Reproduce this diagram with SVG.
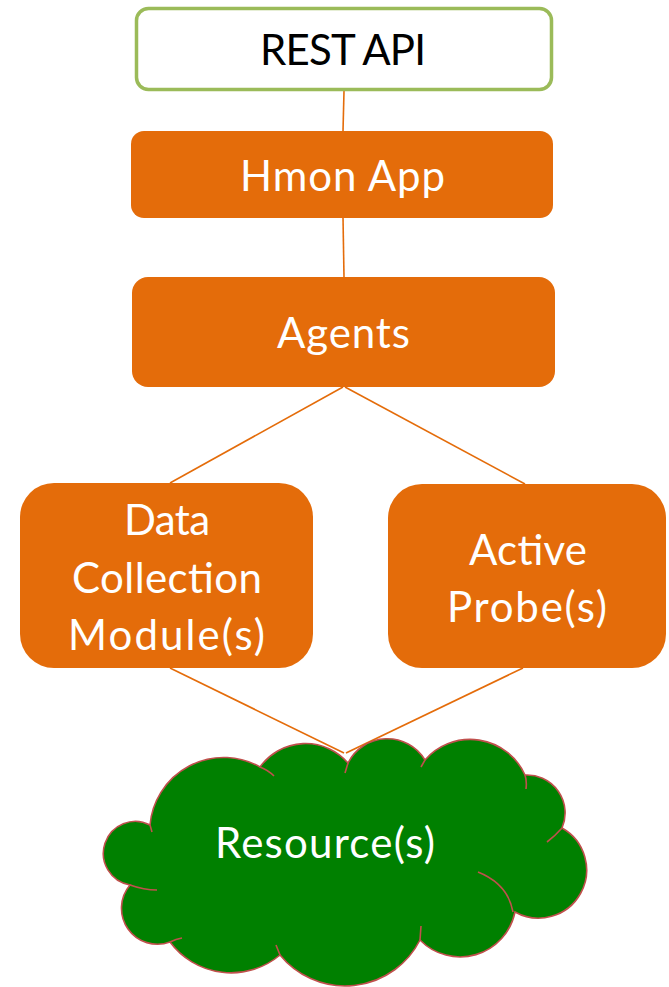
<svg xmlns="http://www.w3.org/2000/svg" width="669" height="987" viewBox="0 0 669 987">
<style>
.box{fill:#E46C0A;}
.lbl{font-family:Lato,"Liberation Sans",sans-serif;font-size:42px;fill:#FFFFFF;text-anchor:middle;}
.conn{stroke:#E46C0A;stroke-width:1.6;fill:none;}
.cloud{fill:#008000;stroke:#C0504D;stroke-width:1.6;}
.inner{fill:none;stroke:#C0504D;stroke-width:1.6;}
</style>
<rect width="669" height="987" fill="#FFFFFF"/>
<g id="connectors">
<line class="conn" x1="344" y1="91" x2="343" y2="131"/>
<line class="conn" x1="343" y1="217" x2="344" y2="277"/>
<line class="conn" x1="343" y1="387" x2="170" y2="483"/>
<line class="conn" x1="345" y1="387" x2="525" y2="484"/>
<line class="conn" x1="170" y1="668" x2="344" y2="753"/>
<line class="conn" x1="523" y1="668" x2="346" y2="753"/>
</g>
<g id="rest-api">
<rect x="136.5" y="8.5" width="415" height="81" rx="12" fill="#FFFFFF" stroke="#9BBB59" stroke-width="3.5"/>
<text class="lbl" x="343" y="65" style="fill:#000000" textLength="166" lengthAdjust="spacing">REST API</text>
</g>
<g id="hmon-app">
<rect class="box" x="131" y="131" width="422" height="87" rx="13"/>
<text class="lbl" x="342.5" y="191" textLength="205" lengthAdjust="spacing">Hmon App</text>
</g>
<g id="agents">
<rect class="box" x="132" y="277" width="423" height="110" rx="16"/>
<text class="lbl" x="343.5" y="348" textLength="133" lengthAdjust="spacing">Agents</text>
</g>
<g id="data-collection">
<rect class="box" x="20" y="483" width="293" height="185" rx="34"/>
<text class="lbl" x="167" y="535" textLength="86" lengthAdjust="spacing">Data</text>
<text class="lbl" x="167" y="593" textLength="190" lengthAdjust="spacing">Collection</text>
<text class="lbl" x="166.5" y="650" textLength="197" lengthAdjust="spacing">Module(s)</text>
</g>
<g id="active-probe">
<rect class="box" x="388" y="484" width="278" height="184" rx="34"/>
<text class="lbl" x="528" y="565" textLength="118" lengthAdjust="spacing">Active</text>
<text class="lbl" x="527" y="622" textLength="160" lengthAdjust="spacing">Probe(s)</text>
</g>
<g id="resources">
<path class="cloud" d="M130,885 A32,32 0 1 1 150,825 A74,74 0 0 1 260,767 A56,56 0 0 1 348,763 A44,44 0 0 1 425,760 A60,60 0 0 1 525,775 A38,38 0 0 1 562,828 A48,48 0 0 1 515,912 A56,56 0 0 1 420,940 A84,84 0 0 1 280,955 A76,76 0 0 1 170,942 A36,36 0 0 1 130,885 Z"/>
<path class="inner" d="M130,885 Q144,890 157,890 M150,825 L152,832 M260,767 Q268,770 274,776 M348,763 L345,773 M425,760 L421,767 M525,775 Q527,781 526,789 M562,828 Q555,836 547,842 M478,872 Q508,884 513,912 M420,940 L421,926 M280,955 L276,945 M170,942 Q176,939 182,938"/>
<text class="lbl" x="325" y="858" textLength="220" lengthAdjust="spacing">Resource(s)</text>
</g>
</svg>
